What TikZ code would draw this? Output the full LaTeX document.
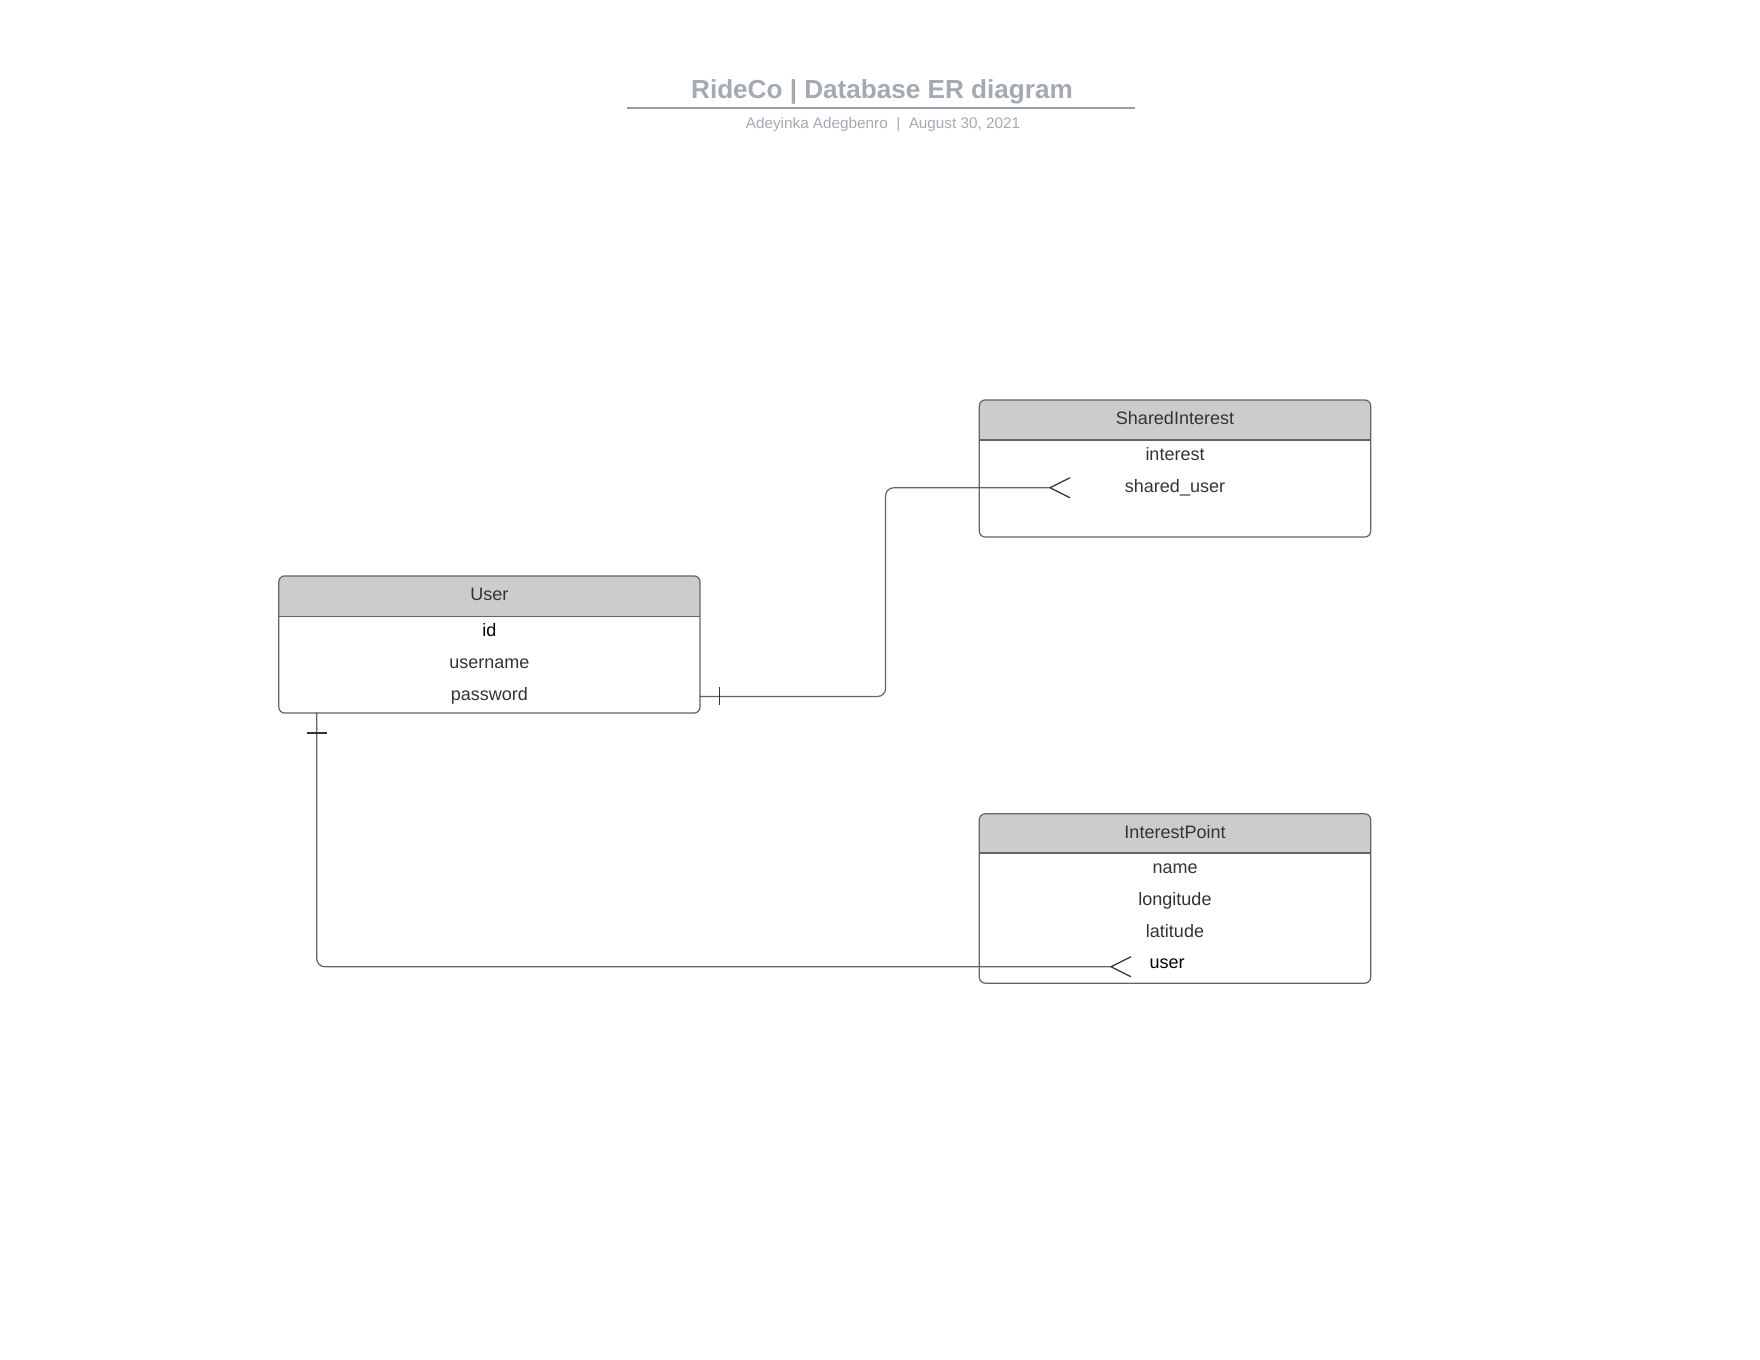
\documentclass[tikz,border=0pt]{standalone}
\usepackage{fontspec}
\setmainfont{Liberation Sans}
\usepackage{xcolor}

\definecolor{titlegray}{RGB}{164,169,179}
\definecolor{rulegray}{RGB}{150,156,168}
\definecolor{hdrgray}{RGB}{204,204,204}
\definecolor{textgray}{RGB}{51,51,51}
\definecolor{linegray}{RGB}{100,100,100}

\tikzset{
  tbl/.style={inner sep=0pt, minimum width=3.90cm},
  tblline/.style={draw=linegray, line width=0.35pt},
  hdrtext/.style={anchor=base, text=textgray, font=\fontsize{5.12pt}{6pt}\selectfont},
  rowtext/.style={anchor=base, text=textgray, font=\fontsize{5.12pt}{6pt}\selectfont},
  conn/.style={draw=linegray, line width=0.35pt, rounded corners=0.08cm},
  crowline/.style={draw=black!80, line width=0.35pt}
}

\begin{document}
\begin{tikzpicture}[x=1cm,y=-1cm]
    \useasboundingbox (0,0) rectangle (17.6,13.6);

    % Title
    \node[anchor=base, text=titlegray, font=\fontsize{7.43pt}{9pt}\selectfont\bfseries] (title) at (8.82,0.985) {RideCo | Database ER diagram};
    \draw[rulegray, line width=0.45pt] (6.274,1.08) -- (11.348,1.08);
    \node[anchor=base, text=titlegray, font=\fontsize{4.35pt}{5pt}\selectfont] (subtitle) at (8.83,1.285) {Adeyinka Adegbenro\ \ |\ \ August 30, 2021};

    % SharedInterest table
    \node[tbl, minimum height=1.357cm] (shared) at (11.75,4.685) {};
    \begin{scope}
      \clip[rounded corners=0.06cm] (shared.north west) rectangle (shared.south east);
      \fill[hdrgray] (shared.north west) rectangle ([yshift=-0.40cm]shared.north east);
    \end{scope}
    \draw[tblline] ([yshift=-0.40cm]shared.north west) -- ([yshift=-0.40cm]shared.north east);
    \draw[tblline, rounded corners=0.06cm] (shared.north west) rectangle (shared.south east);
    \node[hdrtext] (sharedhead) at (11.75,4.25) {SharedInterest};
    \node[rowtext] (sharedinterest) at (11.75,4.61) {interest};
    \node[rowtext] (shareduser) at (11.75,4.93) {shared\_user};

    % User table
    \node[tbl, minimum width=4.198cm, minimum height=1.358cm] (user) at (4.894,6.445) {};
    \begin{scope}
      \clip[rounded corners=0.06cm] (user.north west) rectangle (user.south east);
      \fill[hdrgray] (user.north west) rectangle ([yshift=-0.404cm]user.north east);
    \end{scope}
    \draw[tblline] ([yshift=-0.404cm]user.north west) -- ([yshift=-0.404cm]user.north east);
    \draw[tblline, rounded corners=0.06cm] (user.north west) rectangle (user.south east);
    \node[hdrtext] (userhead) at (4.894,6.005) {User};
    \node[rowtext, text=black] (userid) at (4.894,6.363) {id};
    \node[rowtext] (username) at (4.894,6.683) {username};
    \node[rowtext] (userpassword) at (4.894,7.003) {password};

    % InterestPoint table
    \node[tbl, minimum height=1.68cm] (point) at (11.75,8.985) {};
    \begin{scope}
      \clip[rounded corners=0.06cm] (point.north west) rectangle (point.south east);
      \fill[hdrgray] (point.north west) rectangle ([yshift=-0.393cm]point.north east);
    \end{scope}
    \draw[tblline] ([yshift=-0.393cm]point.north west) -- ([yshift=-0.393cm]point.north east);
    \draw[tblline, rounded corners=0.06cm] (point.north west) rectangle (point.south east);
    \node[hdrtext] (pointhead) at (11.75,8.385) {InterestPoint};
    \node[rowtext] (pointname) at (11.75,8.733) {name};
    \node[rowtext] (pointlongitude) at (11.75,9.053) {longitude};
    \node[rowtext] (pointlatitude) at (11.75,9.373) {latitude};
    \node[rowtext, text=black] (pointuser) at (11.67,9.688) {user};

    % User -> SharedInterest
    \coordinate (userright) at (6.993,6.965);
    \coordinate (sharedfoot) at (10.50,4.878);
    \draw[conn] (userright) -| (8.856,4.878) -- (sharedfoot);
    \draw[crowline] ([xshift=0.20cm]userright) ++(0,-0.09) -- ++(0,0.18);
    \draw[crowline] (sharedfoot) -- ++(0.20,-0.10) (sharedfoot) -- ++(0.20,0.10);

    % User -> InterestPoint
    \coordinate (userbottom) at (3.168,7.124);
    \coordinate (pointfoot) at (11.11,9.667);
    \draw[conn] (userbottom) |- (pointfoot);
    \draw[crowline] ([yshift=-0.207cm]userbottom) ++(-0.10,0) -- ++(0.20,0);
    \draw[crowline] (pointfoot) -- ++(0.20,-0.10) (pointfoot) -- ++(0.20,0.10);
\end{tikzpicture}
\end{document}
